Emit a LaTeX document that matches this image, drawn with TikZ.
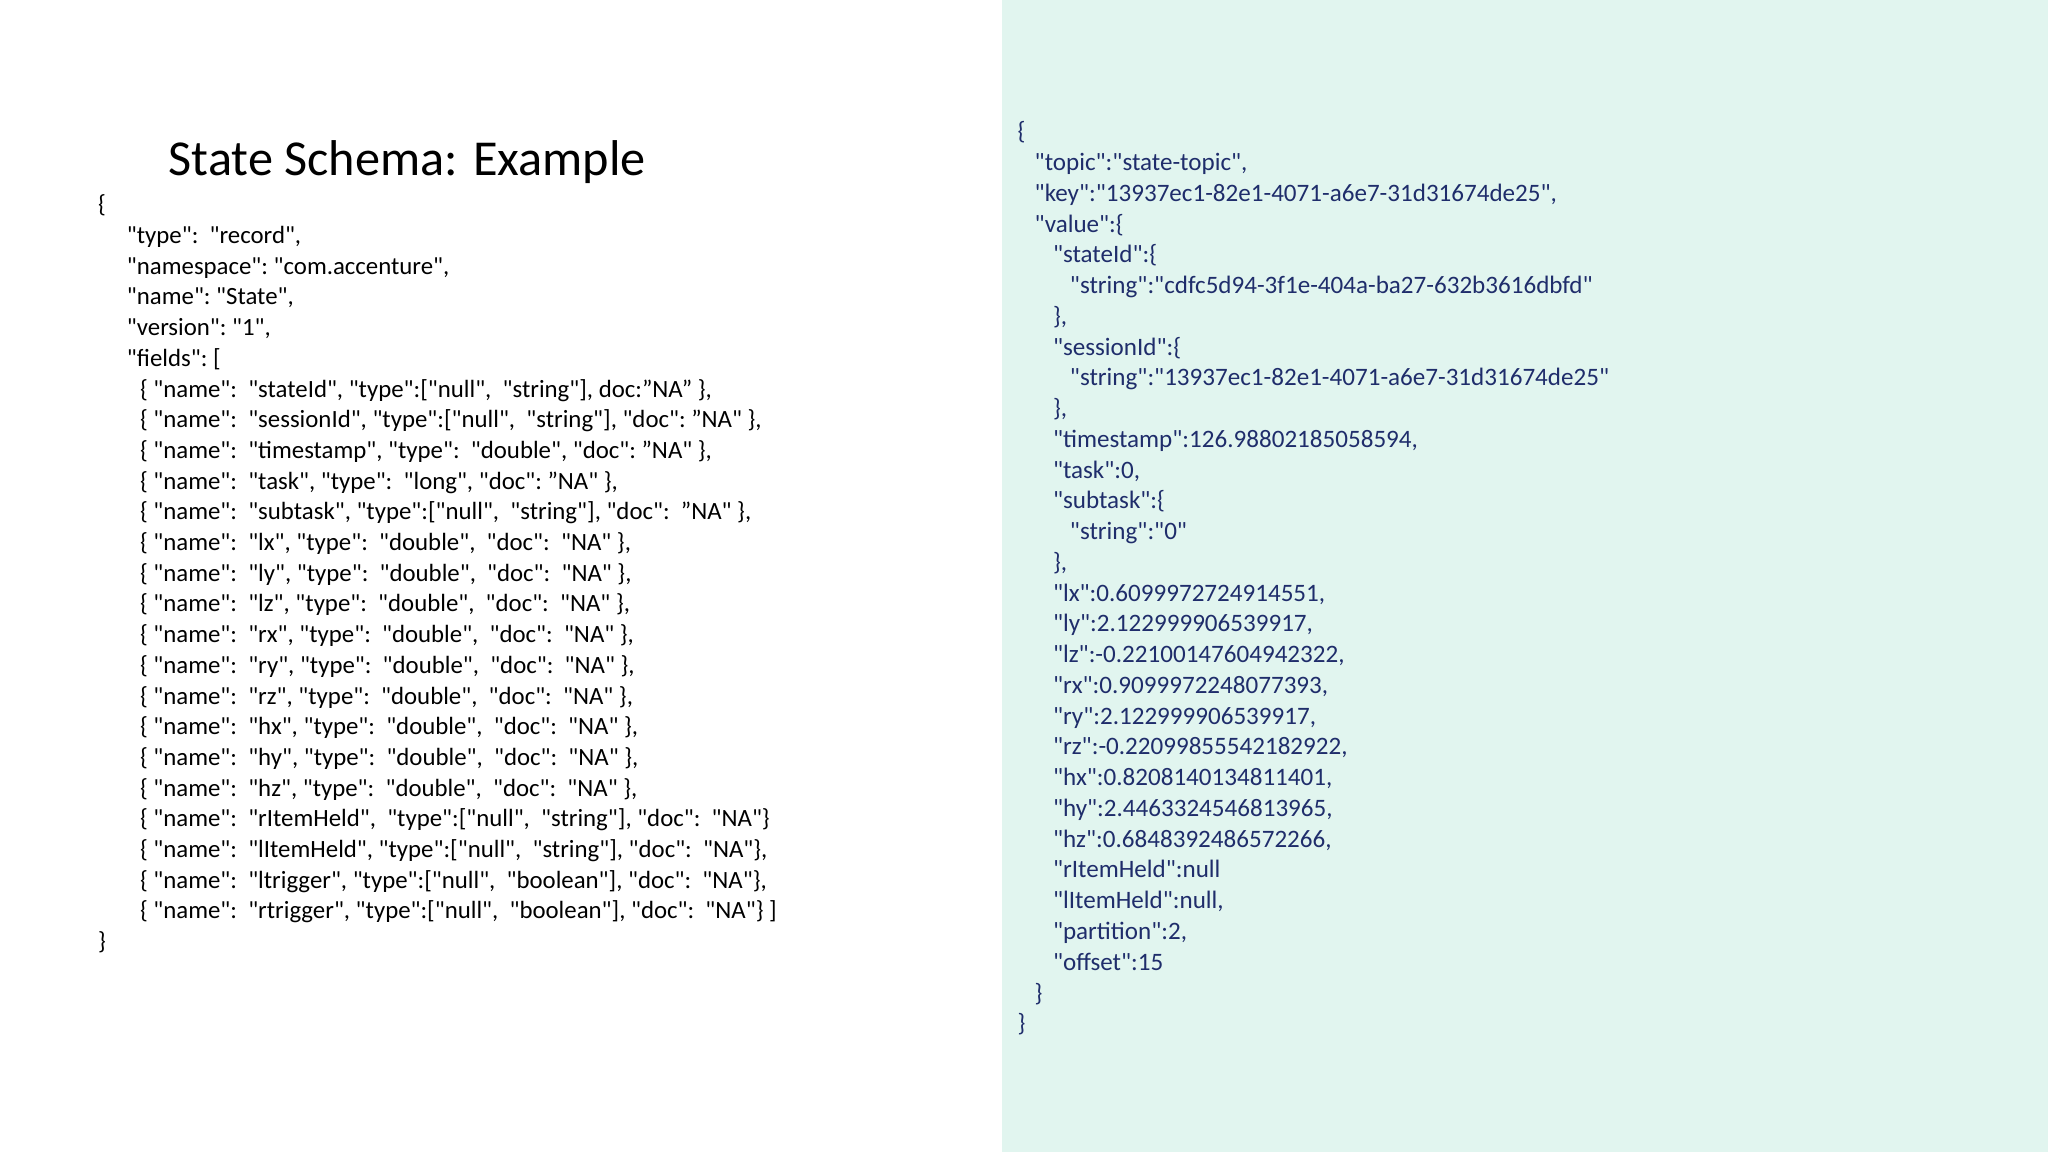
\documentclass[tikz,border=0pt]{standalone}
\usepackage{fontspec}
\setmainfont[Ligatures=TeXOff]{Carlito}
\begin{document}
\begin{tikzpicture}[x=1pt,y=1pt,
 lt/.style={anchor=base west,inner sep=0pt,font=\fontsize{19}{21}\selectfont,text=black},
 rt/.style={anchor=base west,inner sep=0pt,font=\fontsize{19.2}{21}\selectfont,text=navy}]
\definecolor{navy}{HTML}{1F2D6B}
\definecolor{mint}{HTML}{E1F5EF}
\useasboundingbox (0,0) rectangle (1568,-882);
\fill[mint] (767,0) rectangle (1568,-882);
\node[anchor=base west,inner sep=0pt,font=\fontsize{38.5}{40}\selectfont] (title) at (129,-134) {State Schema: Example};
% left
\def\L{23.5}
\foreach \i/\x/\t in {
0/75/{\{},
1/97/{"type":\ \ "record",},
2/97/{"namespace":\ "com.accenture",},
3/97/{"name":\ "State",},
4/97/{"version":\ "1",},
5/97/{"fields":\ [},
6/107/{\{ "name":\ \ "stateId", "type":["null",\ \ "string"], doc:”NA” \},},
7/107/{\{ "name":\ \ "sessionId", "type":["null",\ \ "string"], "doc":\ ”NA" \},},
8/107/{\{ "name":\ \ "timestamp", "type":\ \ "double", "doc":\ ”NA" \},},
9/107/{\{ "name":\ \ "task", "type":\ \ "long", "doc":\ ”NA" \},},
10/107/{\{ "name":\ \ "subtask", "type":["null",\ \ "string"], "doc":\ \ ”NA" \},},
11/107/{\{ "name":\ \ "lx", "type":\ \ "double",\ \ "doc":\ \ "NA" \},},
12/107/{\{ "name":\ \ "ly", "type":\ \ "double",\ \ "doc":\ \ "NA" \},},
13/107/{\{ "name":\ \ "lz", "type":\ \ "double",\ \ "doc":\ \ "NA" \},},
14/107/{\{ "name":\ \ "rx", "type":\ \ "double",\ \ "doc":\ \ "NA" \},},
15/107/{\{ "name":\ \ "ry", "type":\ \ "double",\ \ "doc":\ \ "NA" \},},
16/107/{\{ "name":\ \ "rz", "type":\ \ "double",\ \ "doc":\ \ "NA" \},},
17/107/{\{ "name":\ \ "hx", "type":\ \ "double",\ \ "doc":\ \ "NA" \},},
18/107/{\{ "name":\ \ "hy", "type":\ \ "double",\ \ "doc":\ \ "NA" \},},
19/107/{\{ "name":\ \ "hz", "type":\ \ "double",\ \ "doc":\ \ "NA" \},},
20/107/{\{ "name":\ \ "rItemHeld",\ \ "type":["null",\ \ "string"], "doc":\ \ "NA"\}},
21/107/{\{ "name":\ \ "lItemHeld", "type":["null",\ \ "string"], "doc":\ \ "NA"\},},
22/107/{\{ "name":\ \ "ltrigger", "type":["null",\ \ "boolean"], "doc":\ \ "NA"\},},
23/107/{\{ "name":\ \ "rtrigger", "type":["null",\ \ "boolean"], "doc":\ \ "NA"\} ]},
24/75/{\}}}
  \node[lt] (l\i) at (\x,-163-\L*\i) {\t};
% right
\foreach \i/\x/\t in {
0/779/{\{},
1/792/{"topic":"state-topic",},
2/792/{"key":"13937ec1-82e1-4071-a6e7-31d31674de25",},
3/792/{"value":\{},
4/806/{"stateId":\{},
5/819/{"string":"cdfc5d94-3f1e-404a-ba27-632b3616dbfd"},
6/806/{\},},
7/806/{"sessionId":\{},
8/819/{"string":"13937ec1-82e1-4071-a6e7-31d31674de25"},
9/806/{\},},
10/806/{"timestamp":126.98802185058594,},
11/806/{"task":0,},
12/806/{"subtask":\{},
13/819/{"string":"0"},
14/806/{\},},
15/806/{"lx":0.6099972724914551,},
16/806/{"ly":2.122999906539917,},
17/806/{"lz":-0.22100147604942322,},
18/806/{"rx":0.9099972248077393,},
19/806/{"ry":2.122999906539917,},
20/806/{"rz":-0.22099855542182922,},
21/806/{"hx":0.8208140134811401,},
22/806/{"hy":2.4463324546813965,},
23/806/{"hz":0.6848392486572266,},
24/806/{"rItemHeld":null},
25/806/{"lItemHeld":null,},
26/806/{"partition":2,},
27/806/{"offset":15},
28/792/{\}},
29/779/{\}}}
  \node[rt] (r\i) at (\x,-107-23.55*\i) {\t};
\end{tikzpicture}
\end{document}
